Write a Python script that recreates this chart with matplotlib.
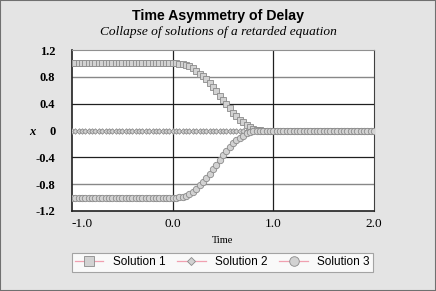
import numpy as np
import matplotlib
matplotlib.use("Agg")
from matplotlib import pyplot as plt
from matplotlib.patches import Rectangle

# sampling grid (step 1/30 from -1 to 2)
time = np.linspace(-1.0, 2.0, 91)

# solution values
sol1 = ([1.0] * 31 +
        [1.0, 0.995, 0.99, 0.98, 0.955, 0.925, 0.89, 0.85, 0.815, 0.77,
         0.71, 0.65, 0.585, 0.515, 0.45, 0.39, 0.33, 0.265, 0.21, 0.16,
         0.125, 0.085, 0.055, 0.03, 0.015, 0.005] +
        [0.0] * 34)
sol2 = [0.0] * 91
sol3 = ([-1.0] * 31 +
        [-1.0, -0.995, -0.99, -0.97, -0.95, -0.91, -0.865, -0.82, -0.77, -0.71,
         -0.645, -0.575, -0.515, -0.44, -0.37, -0.31, -0.25, -0.19, -0.14, -0.11,
         -0.075, -0.04, -0.02, -0.01, -0.003, 0.0] +
        [0.0] * 34)

xticks = [-1.0, 0.0, 1.0, 2.0]
yticks = [-1.2, -0.8, -0.4, 0.0, 0.4, 0.8, 1.2]
ylabels = ["-1.2", "-0.8", "-0.4", "0", "0.4", "0.8", "1.2"]

fig = plt.figure(figsize=(4.36, 2.91), dpi=100, facecolor="#e4e4e4")
fig.patches.append(Rectangle((0, 0), 1, 1, transform=fig.transFigure, fill=False,
                             edgecolor="#707070", linewidth=1.5))
ax = fig.add_axes([0.165, 0.275, 0.693, 0.553])
ax.set_facecolor("white")

# grid
for y in [0.8, -0.8]:
    ax.axhline(y, color="#888888", lw=1, zorder=1)
for y in [0.4, -0.4, 0.0]:
    ax.axhline(y, color="#202020", lw=0.9, zorder=1)
for x in [0.0, 1.0]:
    ax.axvline(x, color="#202020", lw=0.9, zorder=1)

line_kw = dict(color="#f0a0b0", lw=0.9, markerfacecolor="#d2d2d2",
               markeredgecolor="#8a8a8a", markeredgewidth=0.6, zorder=3)
ax.plot(time, sol1, marker="s", markersize=4.6, label="Solution 1", **line_kw)
ax.plot(time, sol2, marker="D", markersize=2.8, label="Solution 2", **line_kw)
ax.plot(time, sol3, marker="o", markersize=4.6, label="Solution 3", **line_kw)

ax.set_xlim(-1.0, 2.0)
ax.set_ylim(-1.2, 1.2)
ax.set_xticks(xticks)
ax.set_xticklabels(["-1.0", "0.0", "1.0", "2.0"], fontfamily="Liberation Serif",
                   fontsize=9.5)
ax.set_yticks(yticks)
ax.set_yticklabels(ylabels, fontfamily="Liberation Serif", fontsize=9,
                   fontweight="bold")
ax.tick_params(length=0, pad=12)
ax.tick_params(axis="x", pad=5)
ax.get_xticklabels()[0].set_ha("left")

for s in ["left", "bottom"]:
    ax.spines[s].set_color("#202020")
    ax.spines[s].set_linewidth(1.2)
ax.spines["right"].set_color("#404040")
ax.spines["top"].set_color("#909090")

fig.text(0.068, 0.548, "x", fontfamily="Liberation Serif", fontstyle="italic",
         fontweight="bold", fontsize=9, va="center")
fig.text(0.51, 0.175, "Time", fontfamily="Liberation Serif", fontsize=7.5,
         ha="center", va="center")

fig.text(0.5, 0.945, "Time Asymmetry of Delay", fontfamily="Liberation Sans",
         fontweight="bold", fontsize=10.2, ha="center", va="center")
fig.text(0.5, 0.89, "Collapse of solutions of a retarded equation",
         fontfamily="Liberation Serif", fontstyle="italic", fontsize=9.6,
         ha="center", va="center")

leg = fig.legend(loc="center", bbox_to_anchor=(0.51, 0.098), ncol=3,
                 frameon=True, fancybox=False, edgecolor="#909090",
                 prop={"family": "Liberation Sans", "size": 8.5},
                 handlelength=2.4, columnspacing=1.0, handletextpad=0.8,
                 borderpad=0.3, markerscale=1.5)
leg.get_frame().set_linewidth(0.8)

fig.savefig("out.png", dpi=100, facecolor=fig.get_facecolor())
